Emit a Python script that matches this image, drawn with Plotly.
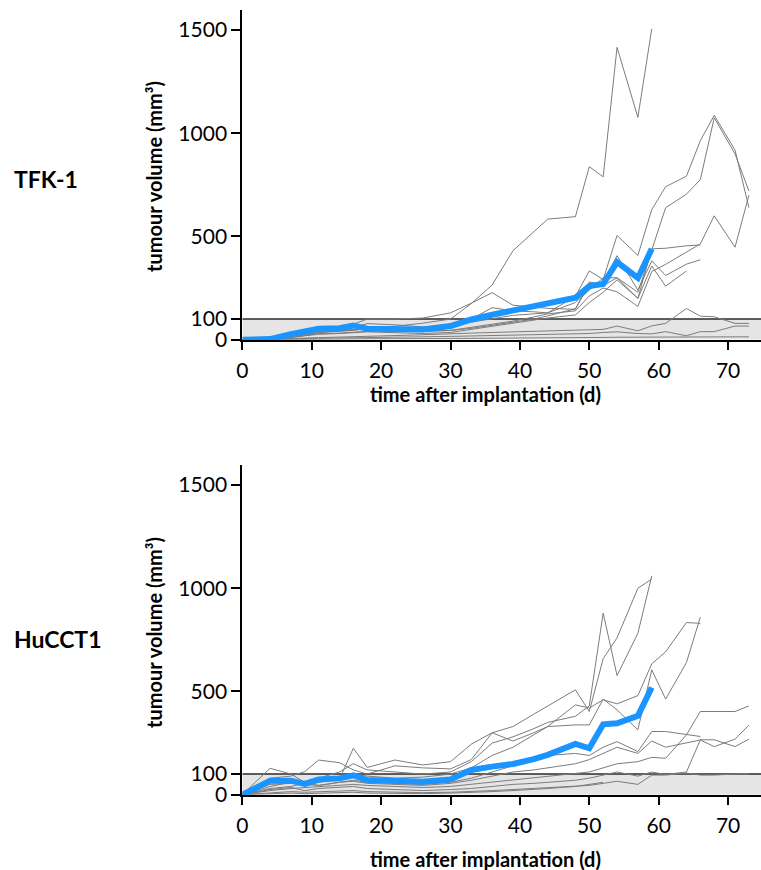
import plotly.graph_objects as go

# Measurement days (d after implantation)
days = [0, 4, 7, 9, 11, 14, 16, 18, 22, 26, 30, 33, 36, 39, 42, 44, 48, 50, 52, 54,
        57, 59, 61, 64, 66, 68, 71, 73]

x_ticks = [0, 10, 20, 30, 40, 50, 60, 70]
y_ticks = [0, 100, 500, 1000, 1500]

# TFK-1: individual tumour volumes (mm^3)
tfk_a = [0, 3, 15, 22, 35, 40, 45, 55, 65, 80, 100, 175, 265, 431, 520, 584, 596, 838, 789, 1416, 1077, 1505]
tfk_b = [0, 2, 18, 30, 55, 48, 60, 78, 72, 62, 70, 100, 155, 140, 135, 130, 210, 333, 292, 505, 408, 630, 741, 792, 964, 1087, 918, 640]
tfk_c = [0, 5, 25, 40, 50, 58, 75, 100, 100, 105, 130, 177, 228, 167, 158, 152, 147, 280, 262, 300, 230, 439, 639, 705, 775, 1075, 900, 720]
tfk_d = [0, 3, 15, 25, 35, 42, 48, 52, 47, 42, 45, 60, 75, 90, 110, 125, 140, 212, 250, 232, 161, 330, 365, 423, 464, 600, 448, 700]
tfk_e = [0, 2, 10, 20, 30, 32, 36, 40, 48, 55, 65, 85, 100, 118, 125, 130, 180, 240, 300, 300, 200, 440, 443, 455, 459]
tfk_f = [0, 4, 18, 28, 40, 45, 50, 55, 48, 40, 45, 55, 70, 85, 100, 115, 150, 265, 280, 407, 240, 382, 311, 366, 387]
tfk_g = [0, 3, 12, 20, 26, 30, 35, 38, 34, 30, 35, 50, 65, 80, 95, 105, 120, 180, 230, 290, 200, 357, 259, 333]
tfk_h = [0, 2, 5, 8, 10, 12, 15, 18, 20, 24, 30, 32, 35, 38, 40, 42, 45, 47, 50, 66, 43, 67, 79, 151, 114, 111, 79, 79]
tfk_i = [0, 1, 3, 5, 7, 8, 10, 12, 13, 15, 16, 18, 20, 22, 24, 26, 28, 30, 35, 38, 30, 28, 39, 19, 39, 39, 66, 66]
tfk_j = [0, 0, 1, 2, 3, 3, 4, 4, 5, 5, 6, 6, 7, 8, 8, 9, 10, 10, 11, 12, 12, 13, 13, 14, 14, 14, 14, 14]
tfk_mean = [0, 3, 27, 40, 53, 56, 69, 53, 48, 50, 66, 98, 121, 143, 165, 180, 203, 260, 270, 376, 299, 440]

# HuCCT1: individual tumour volumes (mm^3)
hu_a = [0, 128, 100, 60, 80, 110, 150, 120, 110, 100, 110, 160, 250, 280, 320, 350, 380, 430, 880, 577, 782, 1060]
hu_b = [0, 80, 90, 112, 168, 155, 120, 100, 140, 130, 125, 170, 300, 330, 390, 430, 508, 403, 659, 760, 1000, 1045]
hu_c = [0, 40, 60, 50, 70, 80, 100, 90, 80, 85, 100, 130, 190, 230, 290, 330, 435, 420, 460, 440, 480, 634, 692, 834, 830]
hu_d = [0, 60, 70, 40, 60, 75, 225, 132, 168, 144, 160, 245, 300, 260, 300, 330, 338, 338, 463, 411, 314, 605, 463, 640, 860]
hu_e = [0, 30, 40, 55, 45, 60, 70, 60, 55, 50, 60, 80, 110, 140, 170, 190, 200, 190, 230, 257, 209, 306, 306, 290, 282]
hu_f = [0, 20, 30, 35, 40, 45, 50, 45, 40, 35, 40, 50, 60, 70, 80, 90, 100, 110, 130, 150, 160, 181, 176, 290, 403, 403, 403, 430]
hu_g = [0, 50, 55, 50, 45, 60, 65, 55, 50, 45, 55, 70, 90, 110, 120, 130, 150, 170, 200, 230, 200, 260, 230, 250, 265, 233, 269, 337]
hu_h = [0, 25, 35, 20, 30, 35, 40, 30, 25, 20, 25, 30, 40, 50, 55, 60, 70, 80, 95, 110, 90, 110, 98, 110, 266, 266, 233, 269]
hu_i = [0, 10, 15, 12, 15, 18, 20, 15, 12, 10, 12, 15, 20, 25, 30, 35, 40, 45, 55, 65, 50, 95, 95, 105, 95, 95, 100, 100]
hu_j = [0, 5, 8, 5, 8, 10, 12, 8, 5, 5, 8, 10, 15, 20, 25, 30, 40, 50, 60]
hu_mean = [0, 68, 68, 52, 74, 79, 94, 71, 68, 63, 74, 120, 136, 149, 172, 193, 246, 225, 341, 346, 382, 519]

tfk_series = [tfk_a, tfk_b, tfk_c, tfk_d, tfk_e, tfk_f, tfk_g, tfk_h, tfk_i, tfk_j]
hu_series = [hu_a, hu_b, hu_c, hu_d, hu_e, hu_f, hu_g, hu_h, hu_i, hu_j]

W, H = 761, 870
X_MAX = 74.74
Y_MAX = 1597
BAND_TOP = 100

GREY = "#7c7c7c"
BLUE = "#1a94ff"
FONT = "Lato"

fig = go.Figure()


def add_panel(series, mean, xa, ya):
    for s in series:
        fig.add_trace(go.Scatter(
            x=days[:len(s)], y=s, mode="lines",
            line=dict(color=GREY, width=1),
            xaxis=xa, yaxis=ya, showlegend=False, hoverinfo="skip"))
    fig.add_trace(go.Scatter(
        x=days[:len(mean)], y=mean, mode="lines",
        line=dict(color=BLUE, width=6),
        xaxis=xa, yaxis=ya, showlegend=False, hoverinfo="skip"))
    fig.add_shape(type="rect", xref=xa, yref=ya, x0=0, x1=X_MAX, y0=0, y1=BAND_TOP,
                  fillcolor="#e5e5e5", line=dict(width=0), layer="below")
    fig.add_shape(type="line", xref=xa, yref=ya, x0=0, x1=X_MAX, y0=BAND_TOP, y1=BAND_TOP,
                  line=dict(color="#2a2a2a", width=1.5), layer="below")


add_panel(tfk_series, tfk_mean, "x", "y")
add_panel(hu_series, hu_mean, "x2", "y2")

x_left = 242.3 / W


def xaxis_cfg(anchor):
    return dict(domain=[x_left, 1], range=[0, X_MAX], anchor=anchor, automargin=False,
                tickvals=x_ticks, ticks="outside", ticklen=8, tickwidth=2, tickcolor="black",
                ticklabelstandoff=3,
                showline=True, linecolor="black", linewidth=2, showgrid=False, zeroline=False,
                tickfont=dict(family=FONT, size=21, color="black"))


def yaxis_cfg(anchor, top_px, bottom_px):
    return dict(domain=[(H - bottom_px) / H, (H - top_px) / H], range=[0, Y_MAX], anchor=anchor,
                automargin=False,
                tickvals=y_ticks, ticks="outside", ticklen=9, tickwidth=2, tickcolor="black",
                showline=True, linecolor="black", linewidth=2, showgrid=False, zeroline=False,
                tickfont=dict(family=FONT, size=21, color="black"))


fig.update_layout(
    width=W, height=H, autosize=False,
    margin=dict(l=0, r=0, t=0, b=0, pad=0),
    paper_bgcolor="white", plot_bgcolor="white",
    xaxis=xaxis_cfg("y"),
    yaxis=yaxis_cfg("x", 10, 339.7),
    xaxis2=xaxis_cfg("y2"),
    yaxis2=yaxis_cfg("x2", 465, 794.7),
)

title_font = dict(family=FONT, size=20, color="black")
label_font = dict(family=FONT, size=23, color="black")


def px_x(v):
    return v / W


def px_y(v):
    return (H - v) / H


annotations = [
    dict(text="<b>tumour volume (mm³)</b>", x=px_x(154), y=px_y(177), textangle=-90, font=title_font),
    dict(text="<b>tumour volume (mm³)</b>", x=px_x(154), y=px_y(633), textangle=-90, font=title_font),
    dict(text="<b>time after implantation (d)</b>", x=px_x(486), y=px_y(394), font=title_font),
    dict(text="<b>time after implantation (d)</b>", x=px_x(486), y=px_y(859), font=title_font),
    dict(text="<b>TFK-1</b>", x=px_x(12), y=px_y(179), xanchor="left", font=label_font),
    dict(text="<b>HuCCT1</b>", x=px_x(12), y=px_y(639), xanchor="left", font=label_font),
]
for a in annotations:
    a.update(xref="paper", yref="paper", showarrow=False)
    a.setdefault("xanchor", "center")
    a.setdefault("yanchor", "middle")
fig.update_layout(annotations=annotations)

fig.write_html("out.html")
